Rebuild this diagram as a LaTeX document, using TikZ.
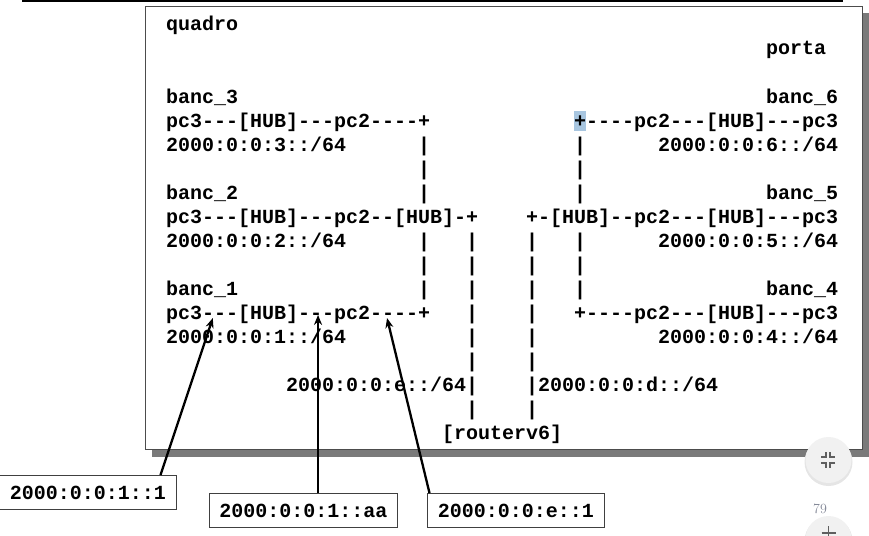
\documentclass[tikz,border=0pt]{standalone}
\usepackage{fontspec}
\setmonofont{Liberation Mono}
\usepackage{tikz}
\usetikzlibrary{arrows.meta}
\definecolor{hiBlue}{RGB}{168, 198, 224}
\definecolor{shadowGray}{RGB}{122, 122, 122}
\definecolor{btnGray}{RGB}{241, 241, 241}
\definecolor{iconGray}{RGB}{95, 95, 95}
\definecolor{pageNum}{RGB}{130, 135, 150}

\begin{document}
\begin{tikzpicture}[
        x=1pt, y=-1pt,
        txt/.style={anchor=base west, inner sep=0pt,
            font=\fontsize{20}{24}\selectfont\ttfamily\bfseries},
        addr/.style={rectangle, draw=black!75, line width=1pt, fill=white,
            inner xsep=10pt, inner ysep=0pt, minimum height=34pt,
            font=\fontsize{20}{24}\selectfont\ttfamily\bfseries},
        arr/.style={-{Stealth[length=10pt, width=8pt]}, line width=2.3pt}
    ]
    \clip (0,0) rectangle (869,535);
    % slide frame
    \draw[line width=1.8pt] (22,1) -- (843,1);
    \fill[shadowGray] (152,13) rectangle (869,457);
    \draw[black!70, fill=white, line width=0.9pt] (145,6) rectangle (862,449);

    % text grid: one unit = one character cell
    \begin{scope}[shift={(166,31)}, x=12pt, y=-24pt]
    \fill[hiBlue] (34,3.33) rectangle (35,4.17);
    \node[txt] (quadro) at (0,0)  {quadro};
    \node[txt] (porta)  at (50,1) {porta};
    \node[txt] (b3)     at (0,3)  {banc\_3};
    \node[txt] (b6)     at (50,3) {banc\_6};
    \node[txt] (b3net)  at (0,4)  {pc3---[HUB]---pc2----+};
    \node[txt] (b6net)  at (34,4) {+----pc2---[HUB]---pc3};
    \node[txt] (b3addr) at (0,5)  {2000:0:0:3::/64};
    \node[txt] (b6addr) at (41,5) {2000:0:0:6::/64};
    \node[txt] (b2)     at (0,7)  {banc\_2};
    \node[txt] (b5)     at (50,7) {banc\_5};
    \node[txt] (b2net)  at (0,8)  {pc3---[HUB]---pc2--[HUB]-+};
    \node[txt] (b5net)  at (30,8) {+-[HUB]--pc2---[HUB]---pc3};
    \node[txt] (b2addr) at (0,9)  {2000:0:0:2::/64};
    \node[txt] (b5addr) at (41,9) {2000:0:0:5::/64};
    \node[txt] (b1)     at (0,11)  {banc\_1};
    \node[txt] (b4)     at (50,11) {banc\_4};
    \node[txt] (b1net)  at (0,12)  {pc3---[HUB]---pc2----+};
    \node[txt] (b4net)  at (34,12) {+----pc2---[HUB]---pc3};
    \node[txt] (b1addr) at (0,13)  {2000:0:0:1::/64};
    \node[txt] (b4addr) at (41,13) {2000:0:0:4::/64};
    \node[txt] (netE)   at (10,15) {2000:0:0:e::/64|};
    \node[txt] (netD)   at (30,15) {|2000:0:0:d::/64};
    \node[txt] (router) at (23,17) {[routerv6]};
    \foreach \c in {21,34} {
        \foreach \r in {5,6,7,9,10,11}
            \node[txt] (bar-\c-\r) at (\c,\r) {|};
    }
    \foreach \c in {25,30} {
        \foreach \r in {9,10,11,12,13,14,16}
            \node[txt] (bar-\c-\r) at (\c,\r) {|};
    }
    \coordinate (tipA) at (3.9,11.96);
    \coordinate (tipB) at (12.67,11.83);
    \coordinate (tipC) at (18.42,11.96);
    \end{scope}

    % address callouts
    \node[addr] (a1) at (88,492.5)  {2000:0:0:1::1};
    \node[addr] (a2) at (303.5,510.5) {2000:0:0:1::aa};
    \node[addr] (a3) at (516,510.5) {2000:0:0:e::1};
    \draw[arr] ([xshift=-16pt]a1.north east) -- (tipA);
    \draw[arr] (a2.north -| tipB) -- (tipB);
    \draw[arr] ([xshift=2pt]a3.north west) -- (tipC);

    % viewer buttons
    \fill[black!10] (828.5,462) circle (24);
    \fill[btnGray] (828.5,460) circle (23);
    \draw[iconGray, line width=1.5pt]
        (821,457) -- (826,457) -- (826,452)
        (830,452) -- (830,457) -- (835,457)
        (821,463) -- (826,463) -- (826,468)
        (835,463) -- (830,463) -- (830,468);
    \node[text=pageNum, font=\fontsize{14}{16}\selectfont] (pnum) at (820,509) {79};
    \fill[black!10] (828.5,541) circle (24);
    \fill[btnGray] (828.5,539) circle (23);
    \draw[iconGray, line width=1.5pt] (828.5,526) -- (828.5,540) (821.5,533) -- (835.5,533);
\end{tikzpicture}
\end{document}
